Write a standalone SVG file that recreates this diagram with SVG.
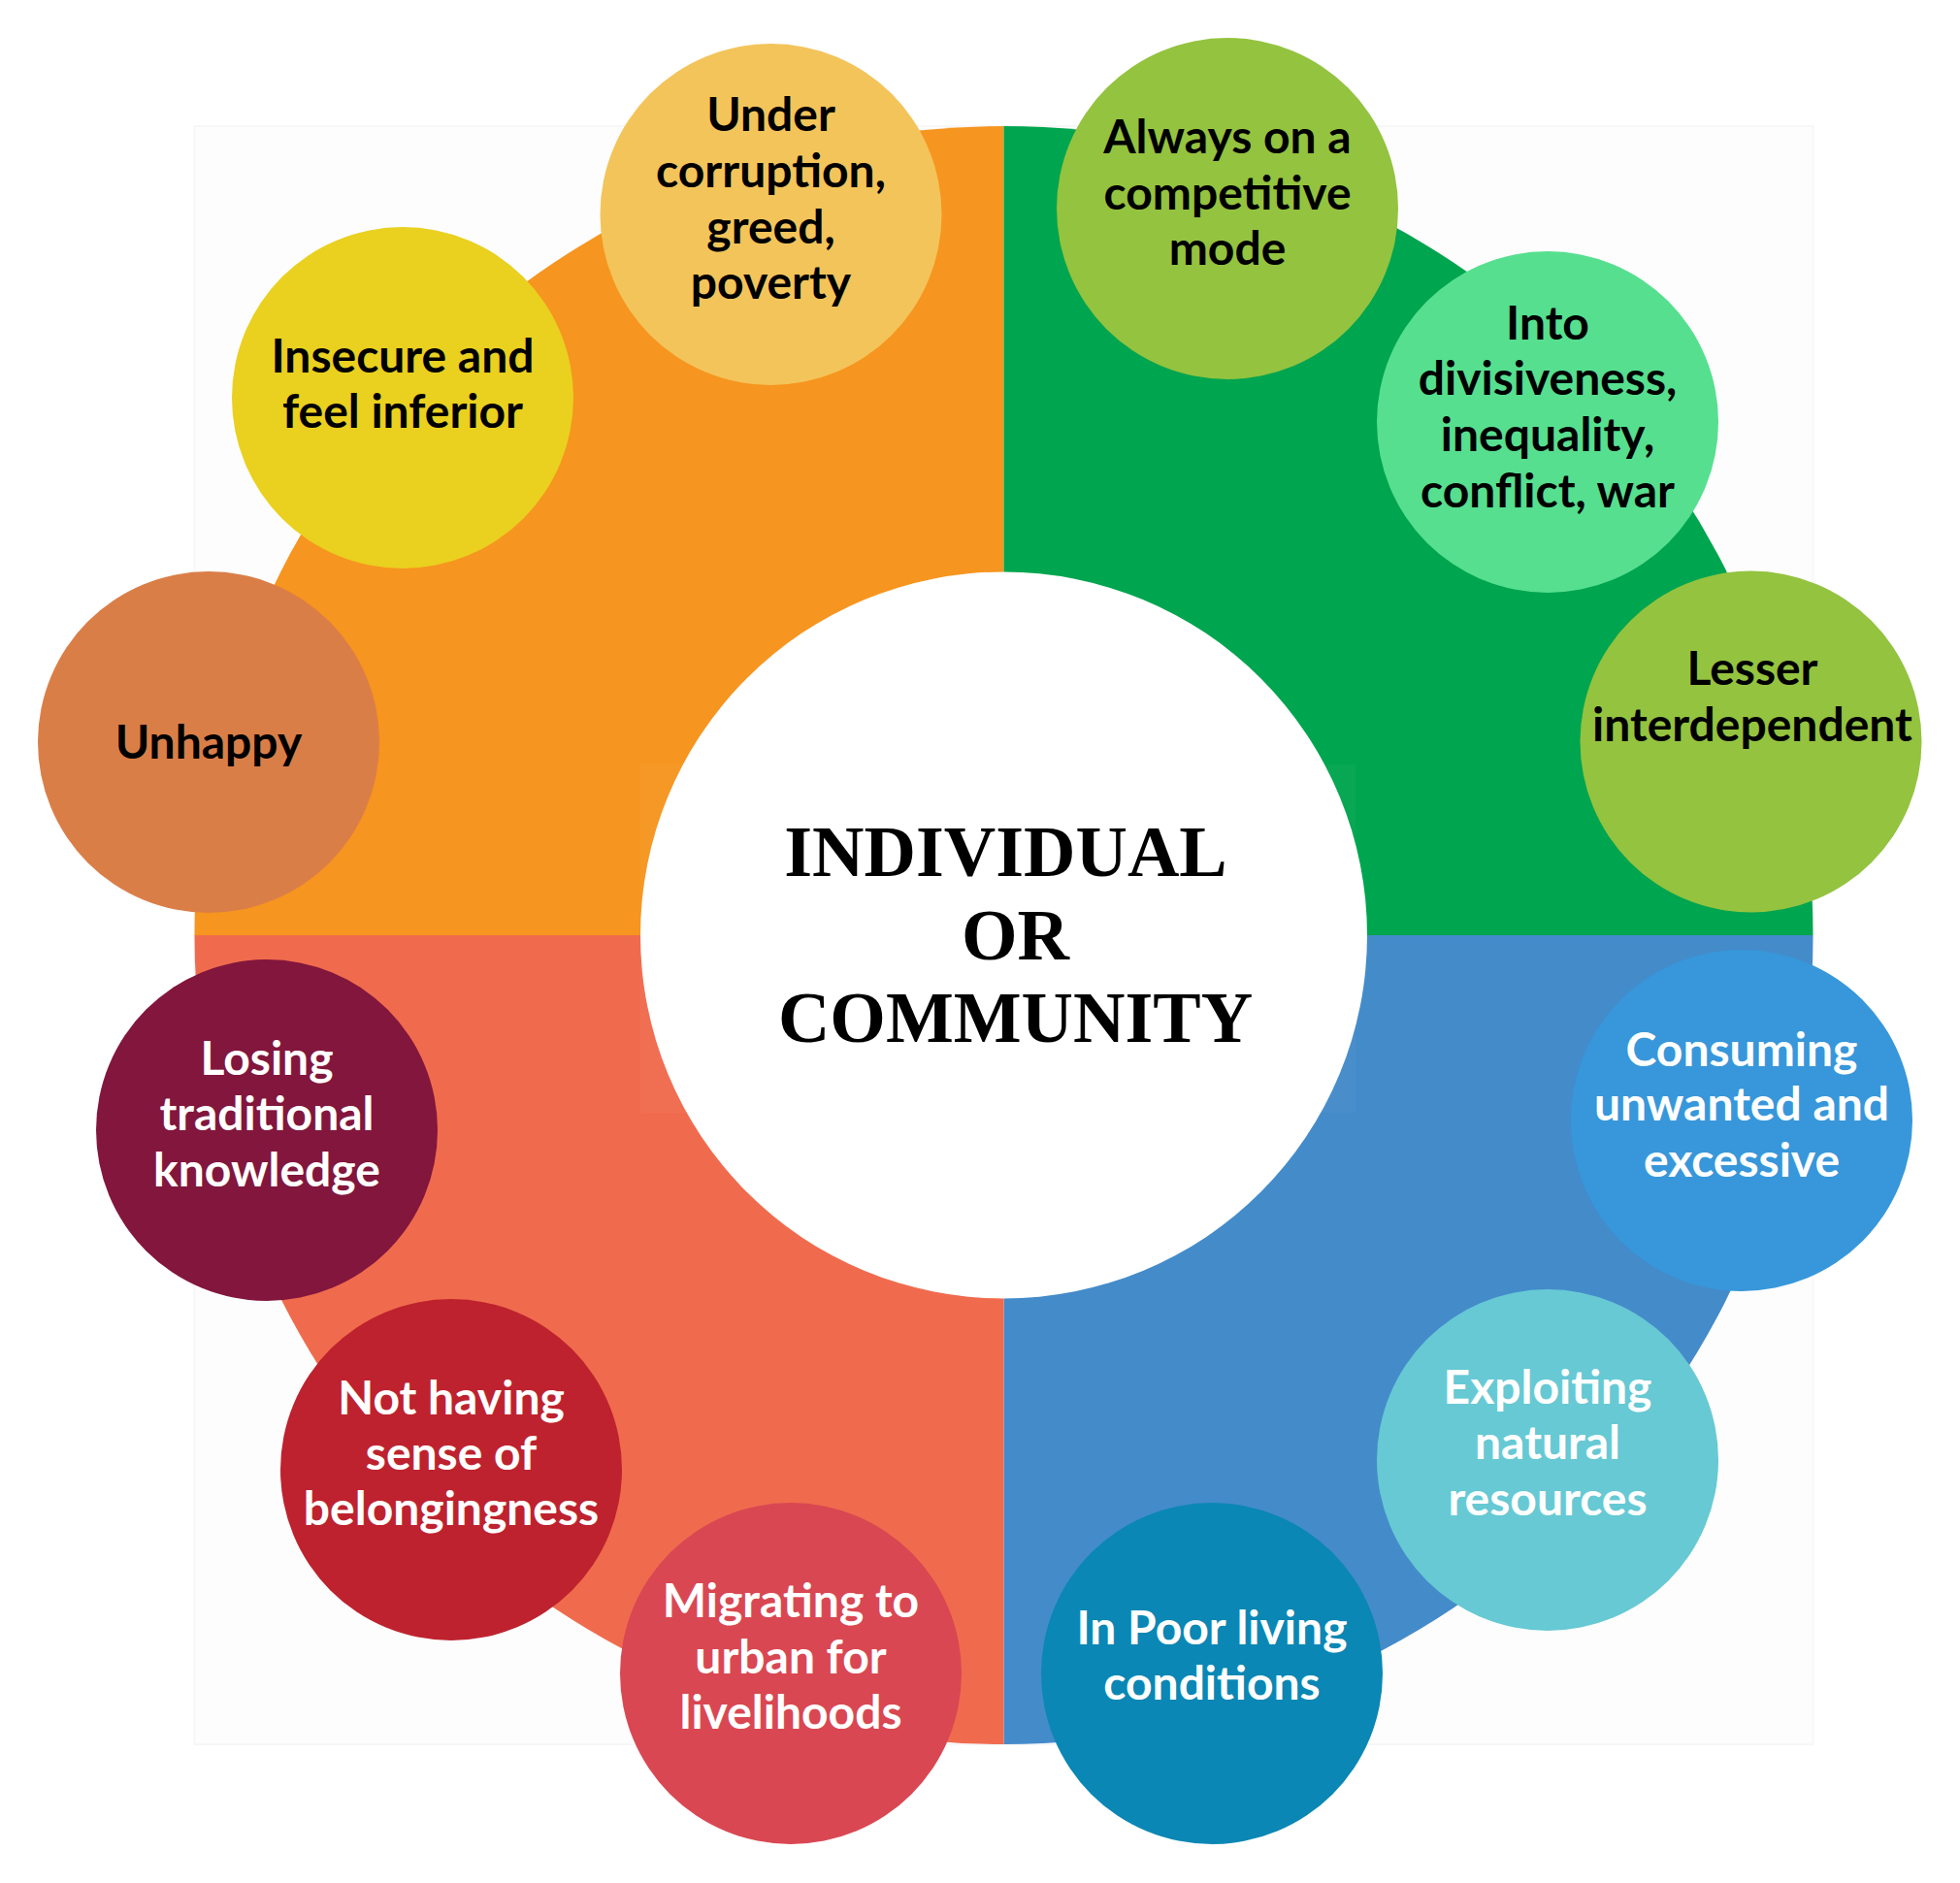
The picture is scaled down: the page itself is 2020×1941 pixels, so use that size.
<svg xmlns="http://www.w3.org/2000/svg" width="2020" height="1941" viewBox="0 0 2020 1941">
<style>
.lbl{font-family:Lato,"Open Sans","Liberation Sans",sans-serif;font-weight:700;font-size:48px;text-anchor:middle}
.dk{fill:#000}
.lt{fill:#fff}
.title{font-family:"Liberation Serif","Times New Roman",serif;font-weight:700;font-size:74px;text-anchor:middle;fill:#000}
</style>
<rect x="0" y="0" width="2020" height="1941" fill="#fff"/>
<rect x="200.5" y="130" width="1668" height="1668" fill="#fdfdfd" stroke="#f7f7f7" stroke-width="2"/>
<g id="quadrants">
<path d="M1034.5,964 L200.5,964 A834,834 0 0 1 1034.5,130 Z" fill="#F6951F"/>
<path d="M1034.5,964 L1034.5,130 A834,834 0 0 1 1868.5,964 Z" fill="#00A54F"/>
<path d="M1034.5,964 L1868.5,964 A834,834 0 0 1 1034.5,1798 Z" fill="#448BCA"/>
<path d="M1034.5,964 L1034.5,1798 A834,834 0 0 1 200.5,964 Z" fill="#F06B4E"/>
<rect x="660" y="788" width="737" height="359" fill="#fff" opacity="0.03"/>
</g>
<g id="connectors"/>
<g id="center">
<circle cx="1034.5" cy="964" r="374.5" fill="#fff"/>
<text class="title" x="1036.5" y="903">INDIVIDUAL</text>
<text class="title" x="1046.5" y="988.5">OR</text>
<text class="title" x="1046.5" y="1073.5">COMMUNITY</text>
</g>
<g id="n-unhappy">
<circle cx="215" cy="765" r="176" fill="#DA7E48"/>
<text class="lbl dk" x="215" y="782">Unhappy</text>
</g>
<g id="n-insecure">
<circle cx="415" cy="410" r="176" fill="#EAD01F"/>
<text class="lbl dk" x="415" y="383.5">Insecure and</text>
<text class="lbl dk" x="415" y="441">feel inferior</text>
</g>
<g id="n-corruption">
<circle cx="794.5" cy="221" r="176" fill="#F3C45A"/>
<text class="lbl dk" x="794.5" y="135">Under</text>
<text class="lbl dk" x="794.5" y="193">corruption,</text>
<text class="lbl dk" x="794.5" y="250.5">greed,</text>
<text class="lbl dk" x="794.5" y="307.5">poverty</text>
</g>
<g id="n-competitive">
<circle cx="1265" cy="215" r="176" fill="#94C33F"/>
<text class="lbl dk" x="1265" y="158">Always on a</text>
<text class="lbl dk" x="1265" y="215.5">competitive</text>
<text class="lbl dk" x="1265" y="272.5">mode</text>
</g>
<g id="n-divisiveness">
<circle cx="1595" cy="435" r="176" fill="#56DF8F"/>
<text class="lbl dk" x="1595" y="349.5">Into</text>
<text class="lbl dk" x="1595" y="407">divisiveness,</text>
<text class="lbl dk" x="1595" y="464.5">inequality,</text>
<text class="lbl dk" x="1595" y="522.5">conflict, war</text>
</g>
<g id="n-interdependent">
<circle cx="1804.5" cy="764.5" r="176" fill="#94C33F"/>
<text class="lbl dk" x="1806" y="705.5">Lesser</text>
<text class="lbl dk" x="1806" y="763.5">interdependent</text>
</g>
<g id="n-consuming">
<circle cx="1795" cy="1155" r="176" fill="#3797DA"/>
<text class="lbl lt" x="1795" y="1098.5">Consuming</text>
<text class="lbl lt" x="1795" y="1155">unwanted and</text>
<text class="lbl lt" x="1795" y="1213">excessive</text>
</g>
<g id="n-exploiting">
<circle cx="1595" cy="1505" r="176" fill="#66C9D4"/>
<text class="lbl lt" x="1595" y="1447">Exploiting</text>
<text class="lbl lt" x="1595" y="1504">natural</text>
<text class="lbl lt" x="1595" y="1561.5">resources</text>
</g>
<g id="n-poor">
<circle cx="1249" cy="1725" r="176" fill="#0A87B4"/>
<text class="lbl lt" x="1249" y="1694.5">In Poor living</text>
<text class="lbl lt" x="1249" y="1752">conditions</text>
</g>
<g id="n-migrating">
<circle cx="815" cy="1725" r="176" fill="#D94752"/>
<text class="lbl lt" x="815" y="1667">Migrating to</text>
<text class="lbl lt" x="815" y="1724.5">urban for</text>
<text class="lbl lt" x="815" y="1781.5">livelihoods</text>
</g>
<g id="n-belonging">
<circle cx="465" cy="1515" r="176" fill="#BE222E"/>
<text class="lbl lt" x="465" y="1457.5">Not having</text>
<text class="lbl lt" x="465" y="1515">sense of</text>
<text class="lbl lt" x="465" y="1572">belongingness</text>
</g>
<g id="n-knowledge">
<circle cx="275" cy="1165" r="176" fill="#82163C"/>
<text class="lbl lt" x="275" y="1107.5">Losing</text>
<text class="lbl lt" x="275" y="1165">traditional</text>
<text class="lbl lt" x="275" y="1222.5">knowledge</text>
</g>
</svg>
